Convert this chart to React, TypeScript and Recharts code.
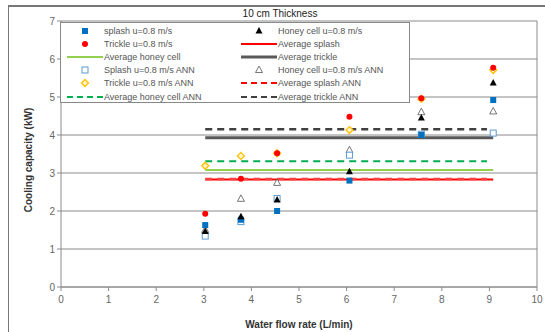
import { ComposedChart, Scatter, Line, XAxis, YAxis, CartesianGrid, ReferenceLine } from 'recharts'

// flow rates (L/min) and measured / predicted cooling capacity (kW)
const flowRates = [3.03, 3.78, 4.54, 6.06, 7.57, 9.08]
const splash = [1.63, 1.77, 2.0, 2.8, 4.0, 4.92]
const trickle = [1.93, 2.85, 3.52, 4.48, 4.97, 5.77]
const honeyCell = [1.46, 1.85, 2.29, 3.03, 4.45, 5.37]
const splashAnn = [1.34, 1.72, 2.33, 3.47, 4.02, 4.05]
const trickleAnn = [3.19, 3.45, 3.52, 4.13, 4.95, 5.71]
const honeyCellAnn = [1.5, 2.32, 2.74, 3.6, 4.6, 4.62]

const averageRange = [3.03, 9.08]
const annAverageRange = [3.03, 8.95]
const avgSplash = 2.83
const avgHoneyCell = 3.08
const avgTrickle = 3.93
const avgSplashAnn = 2.84
const avgHoneyCellAnn = 3.31
const avgTrickleAnn = 4.15

const xTicks = [0, 1, 2, 3, 4, 5, 6, 7, 8, 9, 10]
const yTicks = [0, 1, 2, 3, 4, 5, 6, 7]

const toPoints = (ys: number[]) => flowRates.map((x, i) => ({ x, y: ys[i] }))
const flat = (v: number, range = averageRange) => range.map((x) => ({ x, y: v }))

const FONT = '"Liberation Sans", Arial, sans-serif'

type Mark = 'square' | 'circle' | 'triangle' | 'openSquare' | 'diamond' | 'openTriangle'

function marker(kind: Mark, cx: number, cy: number) {
  switch (kind) {
    case 'square':
      return <rect x={cx - 3} y={cy - 3} width={6} height={6} fill="#0070C0" />
    case 'circle':
      return <circle cx={cx} cy={cy} r={3} fill="#FF0000" />
    case 'triangle':
      return <path d={`M${cx},${cy - 4}L${cx + 3.5},${cy + 2.5}L${cx - 3.5},${cy + 2.5}Z`} fill="#000" />
    case 'openSquare':
      return <rect x={cx - 3} y={cy - 3} width={6} height={6} fill="#fff" stroke="#5B9BD5" strokeWidth={1} />
    case 'diamond':
      return <path d={`M${cx},${cy - 3.5}L${cx + 3.5},${cy}L${cx},${cy + 3.5}L${cx - 3.5},${cy}Z`} fill="#FFF2CC" stroke="#FFC000" strokeWidth={1.3} />
    case 'openTriangle':
      return <path d={`M${cx},${cy - 4}L${cx + 3.5},${cy + 2.5}L${cx - 3.5},${cy + 2.5}Z`} fill="#fff" stroke="#555" strokeWidth={0.8} />
  }
}

const shapeOf = (kind: Mark) => (p: any) => <g>{marker(kind, p.cx, p.cy)}</g>

interface LegendItem {
  label: string
  mark?: Mark
  line?: { color: string; width: number; dash?: string }
}

const legendItems: LegendItem[] = [
  { label: 'splash u=0.8 m/s', mark: 'square' },
  { label: 'Honey cell u=0.8 m/s', mark: 'triangle' },
  { label: 'Trickle u=0.8 m/s', mark: 'circle' },
  { label: 'Average splash', line: { color: '#FF0000', width: 2 } },
  { label: 'Average honey cell', line: { color: '#92D050', width: 2 } },
  { label: 'Average trickle', line: { color: '#595959', width: 3 } },
  { label: 'Splash u=0.8 m/s ANN', mark: 'openSquare' },
  { label: 'Honey cell u=0.8 m/s ANN', mark: 'openTriangle' },
  { label: 'Trickle u=0.8 m/s ANN', mark: 'diamond' },
  { label: 'Average splash ANN', line: { color: '#FF0000', width: 2, dash: '6 4' } },
  { label: 'Average honey cell ANN', line: { color: '#00B050', width: 2, dash: '6 4' } },
  { label: 'Average trickle ANN', line: { color: '#404040', width: 2, dash: '6 4' } },
]

function ChartLegend() {
  return (
    <div
      style={{
        position: 'absolute', left: 60, top: 22, width: 350, height: 81,
        border: '1px solid #888', background: '#fff', boxSizing: 'border-box',
        display: 'grid', gridTemplateColumns: '174px 174px', gridAutoRows: '13.2px',
        paddingTop: 1, fontFamily: FONT, fontSize: 9, color: '#555',
      }}
    >
      {legendItems.map((it) => (
        <div key={it.label} style={{ display: 'flex', alignItems: 'center', whiteSpace: 'nowrap' }}>
          <svg width={42} height={12} style={{ flex: 'none' }}>
            {it.mark && marker(it.mark, 24, 6)}
            {it.line && (
              <line x1={6} x2={42} y1={6} y2={6} stroke={it.line.color} strokeWidth={it.line.width} strokeDasharray={it.line.dash} />
            )}
          </svg>
          <span style={{ marginLeft: 1 }}>{it.label}</span>
        </div>
      ))}
    </div>
  )
}

export default function App() {
  return (
    <div style={{ position: 'absolute', left: 0, top: 0, width: 545, height: 332, background: '#fff', overflow: 'hidden' }}>
      <div style={{ position: 'absolute', left: 8, top: 5, right: 0, bottom: 0, borderTop: '2px solid #777', borderLeft: '1px solid #777' }} />
      <ComposedChart width={545} height={332} margin={{ top: 21, right: 8, bottom: 0, left: 0 }}>
        <CartesianGrid vertical={false} stroke="#8a8a8a" strokeWidth={1} />
        <XAxis
          dataKey="x" type="number" domain={[0, 10]} ticks={xTicks} height={45}
          stroke="#8a8a8a" tickSize={4} tick={{ fill: '#666', fontSize: 10, fontFamily: FONT, dy: 3 }}
          label={{ value: 'Water flow rate (L/min)', position: 'insideBottom', offset: 4, fill: '#333', fontSize: 10, fontWeight: 'bold', fontFamily: FONT }}
        />
        <YAxis
          dataKey="y" type="number" domain={[0, 7]} ticks={yTicks} width={61}
          stroke="#8a8a8a" tickSize={4} tick={{ fill: '#666', fontSize: 10, fontFamily: FONT }}
        />
        <ReferenceLine x={10} stroke="#8a8a8a" />
        <Line data={flat(avgTrickleAnn, annAverageRange)} dataKey="y" stroke="#404040" strokeWidth={2.5} strokeDasharray="7 5" dot={false} isAnimationActive={false} />
        <Line data={flat(avgTrickle)} dataKey="y" stroke="#595959" strokeWidth={3} dot={false} isAnimationActive={false} />
        <Line data={flat(avgHoneyCellAnn, annAverageRange)} dataKey="y" stroke="#00B050" strokeWidth={2} strokeDasharray="7 5" dot={false} isAnimationActive={false} />
        <Line data={flat(avgHoneyCell)} dataKey="y" stroke="#92D050" strokeWidth={2} dot={false} isAnimationActive={false} />
        <Line data={flat(avgSplash)} dataKey="y" stroke="#FF0000" strokeWidth={2} dot={false} isAnimationActive={false} />
        <Line data={flat(avgSplashAnn, annAverageRange)} dataKey="y" stroke="#FF4040" strokeWidth={2.5} strokeDasharray="7 5" dot={false} isAnimationActive={false} />
        <Scatter data={toPoints(honeyCellAnn)} shape={shapeOf('openTriangle')} isAnimationActive={false} />
        <Scatter data={toPoints(splashAnn)} shape={shapeOf('openSquare')} isAnimationActive={false} />
        <Scatter data={toPoints(trickleAnn)} shape={shapeOf('diamond')} isAnimationActive={false} />
        <Scatter data={toPoints(splash)} shape={shapeOf('square')} isAnimationActive={false} />
        <Scatter data={toPoints(honeyCell)} shape={shapeOf('triangle')} isAnimationActive={false} />
        <Scatter data={toPoints(trickle)} shape={shapeOf('circle')} isAnimationActive={false} />
        <text x={280} y={17} textAnchor="middle" fontSize={10} fill="#222" fontFamily={FONT}>10 cm Thickness</text>
        <text x={32} y={160} textAnchor="middle" fontSize={10} fontWeight="bold" fill="#333" fontFamily={FONT} transform="rotate(-90 32 160)">
          Cooling capacity (kW)
        </text>
      </ComposedChart>
      <ChartLegend />
    </div>
  )
}
